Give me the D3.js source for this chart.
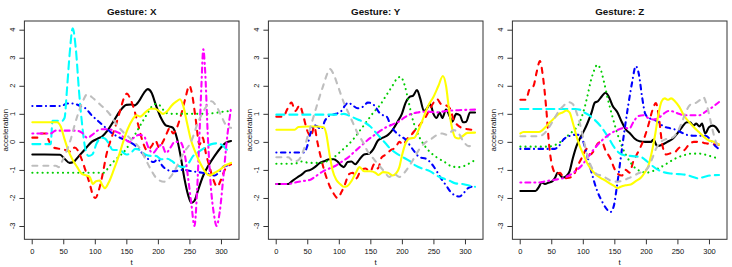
<!DOCTYPE html>
<meta charset="utf-8">
<html>
<head>
<title>Gesture acceleration</title>
<style>
  body { margin: 0; background: #fff; }
  text { font-family: "Liberation Sans", Arial, sans-serif; fill: #111; }
</style>
</head>
<body>
<div id="chart"></div>
<script src="https://d3js.org/d3.v7.min.js"></script>
<script>
// panel titles, series styling and tick labels
const panels = ["Gesture: X", "Gesture: Y", "Gesture: Z"];
const colors = ["#000000", "#FF0000", "#00CD00", "#0000FF", "#00FFFF", "#FF00FF", "#FFFF00", "#BEBEBE"];
const dashes = [null, "5,6", "0.1,5", "0.1,4.5,4.5,4.5", "8,5", "1,4,5,4", null, "5,6"];
const xTicks = [0, 50, 100, 150, 200, 250, 300];
const yTicks = [-3, -2, -1, 0, 1, 2, 3, 4];

// values: [t, acceleration]
const xBlack = [[1,-0.45],[20,-0.45],[45,-0.46],[52,-0.6],[60,-0.75],[66,-0.72],[75,-0.5],[85,-0.25],[95,0],[105,0.12],[112,0.2],[120,0.4],[130,0.75],[140,1.1],[150,1.32],[158,1.33],[163,1.3],[170,1.45],[178,1.75],[184,1.88],[190,1.75],[197,1.3],[205,0.85],[212,0.6],[218,0.55],[224,0.5],[230,0.15],[236,-0.5],[242,-1.3],[248,-1.9],[253,-2.18],[258,-2.1],[264,-1.7],[272,-1.2],[280,-0.85],[290,-0.5],[300,-0.2],[308,-0.03],[316,0.03]];
const xRed = [[1,0.15],[10,0.15],[14,0.3],[22,0.3],[28,0.0],[34,-0.2],[45,-0.25],[55,-0.3],[62,-0.35],[68,-0.2],[73,-0.3],[78,-0.55],[85,-1.0],[92,-1.5],[97,-1.9],[101,-2.0],[106,-1.75],[112,-1.2],[118,-0.5],[125,0.05],[132,0.5],[140,1.1],[146,1.55],[151,1.72],[156,1.55],[163,1.1],[170,0.5],[176,0.0],[183,-0.3],[190,-0.15],[196,0.05],[202,-0.2],[208,0.0],[214,0.3],[219,0.5],[224,0.3],[230,0.5],[236,0.9],[243,1.5],[250,2.0],[255,1.6],[260,0.8],[266,-0.1],[271,0.15],[276,-0.4],[282,-0.9],[288,-1.35],[294,-1.6],[300,-1.35],[306,-1.0],[316,-0.8]];
const xGreen = [[1,-1.1],[60,-1.1],[115,-1.1],[122,-0.9],[132,-0.65],[142,-0.45],[150,-0.25],[158,0.05],[166,0.35],[175,0.7],[183,1.0],[190,1.25],[196,1.35],[203,1.3],[210,1.1],[218,1.0],[230,1.0],[245,1.0],[260,1.0],[275,1.0],[290,1.03],[305,1.08],[316,1.1]];
const xBlue = [[1,1.28],[48,1.28],[55,1.37],[65,1.37],[75,1.3],[85,1.2],[95,0.95],[105,0.75],[115,0.55],[125,0.35],[135,0.2],[145,0.1],[155,0.0],[165,-0.15],[175,-0.4],[185,-0.62],[193,-0.72],[200,-0.62],[207,-0.85],[215,-1.0],[225,-1.05],[240,-1.0],[255,-1.05],[270,-1.1],[282,-1.15],[290,-1.2],[298,-1.05],[306,-0.85],[316,-0.85]];
const xCyan = [[1,-0.08],[30,-0.08],[33,0.75],[48,0.75],[52,0.85],[56,1.9],[60,3.1],[65,4.05],[70,3.3],[75,1.8],[80,0.6],[85,-0.25],[90,-0.5],[96,-0.45],[103,-0.05],[110,0.15],[116,0.12],[122,-0.05],[128,-0.28],[140,-0.3],[150,-0.45],[157,-0.4],[164,-0.25],[172,-0.3],[180,-0.45],[190,-0.5],[197,-0.5],[205,-0.62],[215,-0.6],[222,-0.68],[230,-0.82],[240,-0.9],[248,-0.78],[256,-0.5],[265,-0.35],[275,-0.2],[285,-0.08],[295,-0.05],[302,-0.12],[310,-0.28],[316,-0.3]];
const xMagenta = [[1,0.3],[30,0.3],[38,0.4],[70,0.4],[80,0.32],[88,0.15],[96,0.25],[104,0.4],[112,0.45],[122,0.45],[132,0.38],[140,0.3],[148,0.1],[155,0.0],[162,0.15],[170,0.25],[178,0.2],[185,-0.2],[192,-0.4],[200,-0.2],[206,-0.1],[213,-0.4],[220,-0.2],[227,0.0],[235,0.0],[243,-0.5],[248,-1.3],[253,-2.2],[258,-3.0],[262,-1.8],[266,0.3],[269,2.0],[272,3.3],[275,2.5],[279,0.3],[284,-1.6],[289,-2.6],[293,-3.0],[298,-2.5],[304,-1.2],[310,0.2],[316,1.2]];
const xYellow = [[1,0.7],[40,0.7],[46,0.55],[52,0.1],[58,-0.3],[64,-0.6],[72,-0.9],[80,-1.15],[87,-1.2],[92,-1.25],[97,-1.5],[102,-1.4],[108,-1.38],[112,-1.55],[116,-1.65],[122,-1.45],[130,-1.0],[138,-0.5],[145,0.0],[152,0.45],[160,0.8],[166,0.95],[172,0.9],[180,1.05],[188,1.18],[195,1.18],[202,1.1],[208,1.0],[215,1.1],[222,1.3],[230,1.45],[235,1.52],[240,1.3],[246,0.7],[252,0.1],[260,-0.4],[268,-0.8],[276,-1.1],[282,-1.2],[290,-1.1],[298,-1.0],[306,-0.85],[316,-0.75]];
const xGray = [[1,-0.85],[38,-0.85],[43,-0.9],[48,-0.7],[55,-0.35],[62,0.1],[68,0.6],[75,1.1],[82,1.5],[88,1.7],[95,1.6],[105,1.4],[115,1.2],[125,0.95],[135,0.6],[145,0.35],[155,0.15],[162,0.0],[172,-0.25],[180,-0.6],[188,-0.95],[196,-1.25],[203,-1.38],[210,-1.42],[218,-1.3],[226,-1.05],[234,-0.7],[242,-0.35],[250,-0.1],[256,0.2],[262,0.6],[270,1.0],[278,1.3],[285,1.45],[292,1.3],[300,0.95],[308,0.6],[316,0.5]];

const yBlack = [[1,-1.5],[20,-1.5],[26,-1.4],[34,-1.27],[42,-1.15],[47,-1.05],[55,-1.0],[62,-0.9],[70,-0.75],[78,-0.68],[85,-0.62],[92,-0.62],[98,-0.7],[104,-0.85],[108,-0.9],[114,-0.72],[120,-0.7],[126,-0.8],[132,-0.65],[140,-0.45],[148,-0.42],[155,-0.25],[162,0.05],[170,0.15],[178,0.25],[186,0.45],[194,0.75],[200,1.0],[206,1.4],[212,1.6],[218,1.65],[224,1.85],[229,1.55],[235,1.1],[240,1.2],[245,1.35],[250,1.0],[255,0.85],[260,1.05],[264,0.85],[270,1.15],[276,0.9],[280,0.72],[286,1.0],[292,0.95],[297,0.7],[302,0.72],[308,1.05],[316,1.05]];
const yRed = [[1,0.9],[12,0.9],[18,1.15],[25,1.4],[31,1.1],[38,1.3],[44,0.9],[50,0.4],[56,0.2],[61,0.55],[66,0.0],[72,-0.6],[78,-1.1],[85,-1.55],[92,-1.85],[98,-2.0],[104,-1.8],[110,-1.5],[116,-1.15],[122,-1.1],[128,-1.3],[134,-1.05],[142,-0.95],[150,-1.05],[156,-0.8],[162,-0.95],[168,-0.55],[175,-0.45],[182,-0.3],[190,-0.2],[196,0.0],[202,-0.1],[208,0.1],[215,0.25],[222,0.45],[230,0.65],[238,0.9],[245,1.2],[252,1.45],[256,1.52],[262,1.35],[270,1.3],[276,1.2],[282,0.8],[288,0.6],[295,0.5],[305,0.45],[316,0.42]];
const yGreen = [[1,-0.78],[30,-0.78],[40,-0.7],[55,-0.75],[70,-0.75],[85,-0.65],[95,-0.5],[105,-0.3],[115,-0.1],[125,0.15],[135,0.45],[145,0.75],[155,1.05],[165,1.3],[175,1.65],[185,2.0],[192,2.25],[198,2.32],[204,2.05],[210,1.5],[216,0.9],[224,0.35],[232,0.0],[242,-0.3],[255,-0.55],[268,-0.72],[280,-0.88],[290,-0.9],[300,-0.85],[308,-0.75],[316,-0.65]];
const yBlue = [[1,-0.38],[45,-0.38],[50,-0.15],[55,0.3],[60,0.6],[66,0.55],[72,0.45],[78,0.75],[86,0.95],[96,1.0],[104,1.1],[110,1.3],[115,1.4],[122,1.3],[130,1.2],[138,1.25],[146,1.4],[152,1.38],[158,1.25],[164,1.05],[170,0.95],[176,0.9],[182,0.6],[190,0.35],[198,0.2],[205,0.1],[212,-0.1],[220,-0.35],[228,-0.55],[238,-0.6],[246,-0.75],[254,-1.0],[262,-1.3],[270,-1.55],[278,-1.8],[285,-1.92],[291,-1.95],[297,-1.85],[305,-1.65],[316,-1.58]];
const yCyan = [[1,0.97],[50,0.97],[100,0.97],[108,1.0],[115,0.95],[122,0.88],[130,0.8],[140,0.7],[150,0.55],[158,0.35],[166,0.15],[174,-0.05],[182,-0.25],[192,-0.42],[202,-0.55],[212,-0.68],[222,-0.85],[232,-0.95],[245,-1.05],[255,-1.2],[265,-1.3],[275,-1.38],[285,-1.48],[295,-1.5],[305,-1.55],[316,-1.6]];
const yMagenta = [[1,-1.5],[20,-1.5],[30,-1.45],[42,-1.4],[55,-1.35],[65,-1.2],[75,-1.05],[85,-0.95],[95,-0.85],[105,-0.7],[115,-0.55],[125,-0.35],[135,-0.15],[145,0.05],[155,0.22],[165,0.38],[175,0.52],[185,0.62],[195,0.72],[205,0.88],[215,1.0],[225,1.05],[240,1.08],[255,1.05],[270,1.1],[290,1.13],[316,1.15]];
const yYellow = [[1,0.43],[30,0.43],[36,0.53],[50,0.55],[65,0.55],[76,0.52],[80,0.3],[85,-0.4],[90,-1.0],[96,-1.35],[102,-1.5],[108,-1.6],[113,-1.58],[120,-1.4],[127,-1.1],[133,-0.9],[140,-1.05],[150,-1.05],[158,-1.1],[163,-1.18],[170,-1.08],[178,-1.1],[185,-1.2],[191,-1.12],[196,-0.9],[200,-0.5],[206,-0.05],[212,0.12],[220,0.15],[226,0.4],[234,0.85],[242,1.3],[250,1.6],[258,2.0],[265,2.35],[270,2.0],[275,1.1],[280,0.45],[285,0.15],[290,0.12],[296,0.2],[304,0.32],[316,0.33]];
const yGray = [[1,-0.55],[20,-0.55],[28,-0.7],[36,-0.65],[44,-0.3],[52,0.3],[60,0.9],[68,1.5],[76,2.05],[82,2.45],[86,2.6],[92,2.4],[100,1.9],[108,1.4],[115,1.05],[122,0.7],[130,0.3],[138,0.0],[146,-0.35],[155,-0.6],[164,-0.85],[172,-1.05],[180,-1.25],[188,-1.15],[196,-1.25],[204,-1.1],[212,-0.85],[220,-0.55],[228,-0.25],[236,-0.05],[246,0.1],[256,0.25],[264,0.3],[272,0.25],[282,0.42],[290,0.3],[298,0.0],[306,-0.15],[316,-0.15]];

const zBlack = [[1,-1.75],[25,-1.75],[30,-1.62],[35,-1.45],[40,-1.5],[46,-1.45],[52,-1.4],[56,-1.28],[60,-1.1],[64,-1.18],[68,-1.28],[74,-1.22],[79,-1.05],[84,-0.6],[90,-0.15],[96,0.15],[102,0.4],[108,0.7],[114,1.05],[119,1.4],[124,1.45],[130,1.62],[136,1.75],[141,1.62],[147,1.3],[155,1.05],[162,0.7],[168,0.45],[175,0.3],[182,0.12],[190,0.02],[200,0.0],[208,0.0],[212,0.08],[218,-0.15],[226,-0.1],[234,0.0],[242,0.1],[250,0.3],[258,0.55],[265,0.7],[270,0.7],[275,0.58],[280,0.65],[285,0.55],[289,0.65],[294,0.3],[300,0.52],[306,0.58],[311,0.52],[316,0.35]];
const zRed = [[1,1.5],[10,1.5],[15,1.85],[22,2.0],[27,2.5],[32,2.88],[37,2.3],[42,1.2],[47,-0.2],[52,-0.9],[58,-1.15],[64,-1.1],[70,-1.3],[78,-1.28],[85,-1.2],[92,-0.85],[100,-0.5],[106,-0.25],[112,-0.45],[118,-0.3],[124,-0.05],[130,0.0],[136,-0.3],[144,-0.6],[150,-0.95],[156,-1.15],[162,-1.2],[168,-1.0],[174,-1.1],[180,-0.7],[188,-0.35],[196,0.05],[204,0.6],[210,1.1],[216,1.38],[221,0.8],[226,-0.1],[232,-0.45],[240,-0.4],[247,-0.35],[254,-0.2],[260,-0.3],[268,-0.1],[276,0.0],[285,0.0],[295,-0.05],[305,-0.08],[316,-0.1]];
const zGreen = [[1,-0.17],[45,-0.17],[55,-0.12],[65,0.0],[75,0.2],[85,0.4],[93,0.6],[100,1.0],[107,1.6],[113,2.2],[118,2.55],[123,2.75],[128,2.6],[134,2.1],[140,1.5],[147,0.9],[154,0.35],[161,-0.1],[168,-0.45],[176,-0.75],[184,-0.95],[192,-1.05],[200,-1.1],[210,-1.05],[222,-0.92],[235,-0.75],[248,-0.58],[260,-0.48],[272,-0.42],[285,-0.42],[298,-0.48],[308,-0.55],[316,-0.6]];
const zBlue = [[1,-0.25],[55,-0.25],[62,-0.15],[70,0.1],[78,0.2],[86,0.25],[94,0.25],[100,0.05],[106,-0.4],[114,-1.1],[122,-1.7],[130,-2.1],[138,-2.4],[144,-2.5],[149,-2.3],[154,-1.6],[160,-0.6],[166,0.4],[172,1.3],[178,2.1],[184,2.7],[189,2.4],[194,1.6],[199,1.0],[205,0.85],[212,0.8],[220,0.7],[228,0.55],[236,0.5],[245,0.45],[255,0.35],[265,0.25],[275,0.22],[285,0.22],[295,0.22],[303,0.05],[310,-0.15],[316,-0.25]];
const zCyan = [[1,1.17],[50,1.17],[88,1.17],[95,1.15],[102,1.05],[110,0.95],[118,0.8],[126,0.62],[134,0.38],[142,0.1],[150,-0.2],[158,-0.4],[166,-0.48],[175,-0.5],[185,-0.52],[193,-0.55],[202,-0.7],[210,-0.85],[218,-0.98],[228,-1.08],[240,-1.13],[252,-1.15],[265,-1.18],[275,-1.25],[283,-1.3],[292,-1.25],[302,-1.2],[316,-1.18]];
const zMagenta = [[1,-1.45],[30,-1.45],[42,-1.4],[55,-1.35],[68,-1.3],[78,-1.2],[88,-1.05],[98,-0.85],[108,-0.55],[118,-0.25],[128,0.0],[138,0.2],[148,0.35],[158,0.45],[166,0.5],[174,0.48],[180,0.7],[188,0.92],[196,0.95],[204,0.85],[212,0.8],[220,0.85],[228,1.0],[236,1.1],[244,1.08],[252,1.0],[262,0.95],[275,0.95],[285,0.95],[293,1.05],[300,1.15],[308,1.28],[316,1.42]];
const zYellow = [[1,0.3],[6,0.35],[30,0.35],[36,0.42],[42,0.55],[48,0.7],[55,0.85],[62,1.0],[68,1.05],[74,1.12],[79,1.05],[84,0.7],[90,0.2],[96,-0.2],[102,-0.5],[108,-0.8],[114,-1.0],[120,-1.15],[128,-1.28],[136,-1.38],[144,-1.5],[150,-1.58],[155,-1.65],[160,-1.6],[168,-1.55],[176,-1.52],[184,-1.4],[192,-1.28],[198,-1.1],[204,-0.85],[210,-0.3],[215,0.3],[220,1.0],[225,1.45],[230,1.55],[235,1.5],[240,1.55],[246,1.45],[253,1.25],[260,0.95],[268,0.72],[276,0.52],[284,0.35],[292,0.18],[300,0.05],[308,0.0],[316,-0.1]];
const zGray = [[1,0.2],[30,0.2],[38,0.28],[46,0.5],[54,0.8],[62,1.1],[70,1.3],[77,1.42],[84,1.35],[90,1.05],[96,0.6],[102,0.0],[108,-0.55],[115,-0.95],[122,-1.15],[130,-1.2],[138,-1.3],[146,-1.4],[155,-1.42],[164,-1.38],[172,-1.3],[180,-1.22],[188,-1.12],[196,-1.05],[204,-0.9],[210,-0.6],[216,-0.25],[224,0.0],[232,0.1],[242,0.15],[250,0.35],[258,0.75],[265,1.15],[272,1.35],[280,1.4],[286,1.5],[291,1.6],[296,1.35],[301,0.9],[306,0.4],[311,0.0],[316,-0.2]];

const panelSeries = [
    [xBlack, xRed, xGreen, xBlue, xCyan, xMagenta, xYellow, xGray],
    [yBlack, yRed, yGreen, yBlue, yCyan, yMagenta, yYellow, yGray],
    [zBlack, zRed, zGreen, zBlue, zCyan, zMagenta, zYellow, zGray]
];

const width = 732,
    height = 267,
    panelW = 244,
    margin = { top: 21, right: 5, bottom: 27.7, left: 24.4 };

const svg = d3.select("#chart").append("svg")
    .attr("width", width)
    .attr("height", height);

const x = d3.scaleLinear()
    .domain([-11.6, 328.6])
    .range([0, panelW - margin.left - margin.right]);

const y = d3.scaleLinear()
    .domain([-3.474, 4.31])
    .range([height - margin.bottom, margin.top]);

const line = d3.line()
    .x(d => x(d[0]))
    .y(d => y(d[1]))
    .curve(d3.curveMonotoneX);

panels.forEach((title, i) => {
    const g = svg.append("g")
        .attr("transform", `translate(${i * panelW + margin.left},0)`);

    // clip to the plot box like R does
    g.append("clipPath")
        .attr("id", "clip" + i)
        .append("rect")
        .attr("x", 0)
        .attr("y", margin.top)
        .attr("width", x.range()[1])
        .attr("height", y.range()[0] - margin.top);

    const lines = g.append("g").attr("clip-path", `url(#clip${i})`);
    panelSeries[i].forEach((s, k) => {
        lines.append("path")
            .datum(s)
            .attr("fill", "none")
            .attr("stroke", colors[k])
            .attr("stroke-width", 2.1)
            .attr("stroke-linecap", "round")
            .attr("stroke-linejoin", "round")
            .attr("stroke-dasharray", dashes[k])
            .attr("d", line);
    });

    // box
    g.append("rect")
        .attr("x", 0)
        .attr("y", margin.top)
        .attr("width", x.range()[1])
        .attr("height", y.range()[0] - margin.top)
        .attr("fill", "none")
        .attr("stroke", "#333")
        .attr("stroke-width", 1);

    // x axis
    const xa = g.append("g")
        .attr("transform", `translate(0,${y.range()[0]})`)
        .call(d3.axisBottom(x).tickValues(xTicks).tickSize(5).tickFormat(d3.format("d")));
    xa.select(".domain").remove();
    xa.selectAll(".tick line").attr("stroke", "#333");
    xa.selectAll(".tick text")
        .attr("y", 9)
        .attr("dy", "0.71em")
        .style("font-size", "7.5px")
        .style("font-family", "'Liberation Sans', Arial, sans-serif")
        .attr("fill", "#111");

    // y axis, labels parallel to the axis
    const ya = g.append("g")
        .call(d3.axisLeft(y).tickValues(yTicks).tickSize(5).tickFormat(""));
    ya.select(".domain").remove();
    ya.selectAll(".tick line").attr("stroke", "#333");

    g.append("g").selectAll("text")
        .data(yTicks)
        .join("text")
        .attr("transform", d => `translate(-9.6,${y(d)}) rotate(-90)`)
        .attr("text-anchor", "middle")
        .style("font-size", "7.5px")
        .text(d => d);

    // titles and axis labels
    g.append("text")
        .attr("x", x.range()[1] / 2)
        .attr("y", 14.5)
        .attr("text-anchor", "middle")
        .style("font-size", "9.8px")
        .style("font-weight", "bold")
        .text(title);

    g.append("text")
        .attr("x", x.range()[1] / 2)
        .attr("y", 264.5)
        .attr("text-anchor", "middle")
        .style("font-size", "8px")
        .text("t");

    g.append("text")
        .attr("transform", `translate(-16.2,${(y.range()[0] + margin.top) / 2}) rotate(-90)`)
        .attr("text-anchor", "middle")
        .style("font-size", "7.9px")
        .text("acceleration");
});
</script>
</body>
</html>
